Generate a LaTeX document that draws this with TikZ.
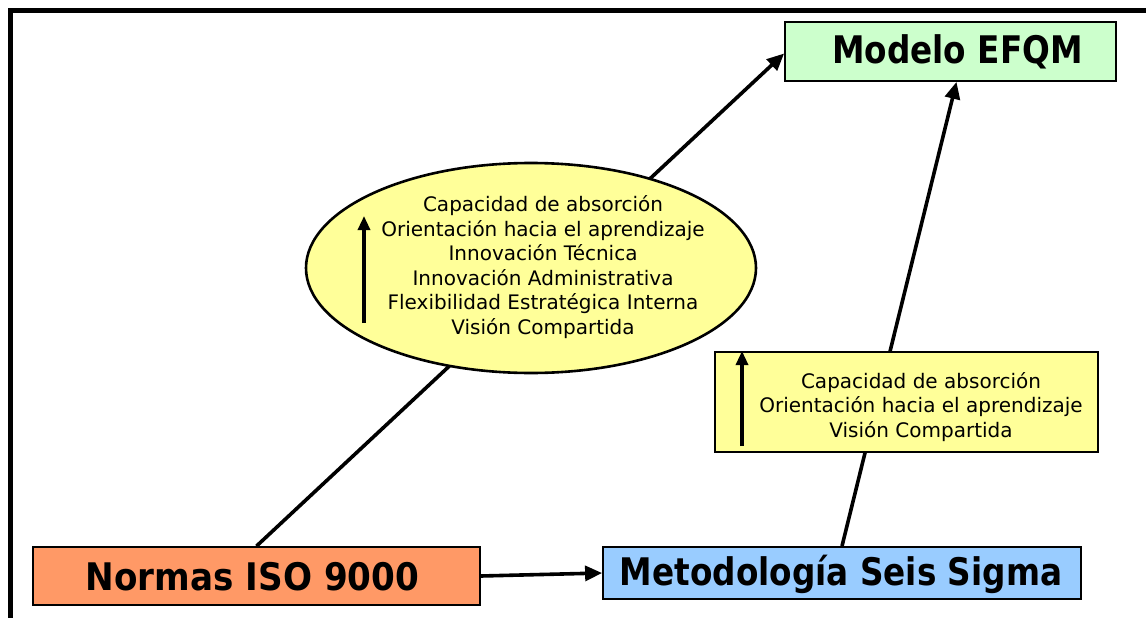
\documentclass[tikz,border=0pt]{standalone}
\usepackage{fontspec}
\setmainfont{DejaVu Sans}
\usetikzlibrary{arrows.meta,shapes.geometric,backgrounds,calc}
\definecolor{isoorange}{HTML}{FF9966}
\definecolor{sigmablue}{HTML}{99CCFF}
\definecolor{efqmgreen}{HTML}{CCFFCC}
\definecolor{noteyellow}{HTML}{FFFF99}
\newcommand{\bigbold}[2][0.86]{\scalebox{#1}[1]{\fontsize{38}{40}\selectfont\bfseries #2}}
\begin{document}
\begin{tikzpicture}[x=1pt,y=-1pt,
  modelbox/.style={draw=black,line width=1.8pt,inner sep=0pt,align=center},
  notes/.style={font=\fontsize{20}{24.5}\selectfont,align=center},
  link/.style={line width=3.6pt,-{Triangle[length=17pt,width=15pt]}},
  inner/.style={line width=3.2pt,-{Triangle[length=14pt,width=12pt]}}]
\useasboundingbox (0,0) rectangle (1146,618);
\begin{scope}
  \clip (0,0) rectangle (1146,618);
  \draw[line width=5pt] (10.5,640) -- (10.5,10.5) -- (1160,10.5);
\end{scope}

% quality models
\node[modelbox,fill=efqmgreen,minimum width=331pt,minimum height=59pt] (efqm) at (950.5,51.5) {};
\node (efqmtext) at (957.5,51.5) {\bigbold{Modelo EFQM}};
\node[modelbox,fill=isoorange,minimum width=447pt,minimum height=58pt] (iso) at (256.5,576) {};
\node (isotext) at (252.5,577) {\bigbold[0.9]{Normas ISO 9000}};
\node[modelbox,fill=sigmablue,minimum width=478pt,minimum height=52pt] (six) at (842,573) {};
\node (sixtext) at (841,574) {\bigbold{Metodología Seis Sigma}};

% mediating capabilities
\node[draw=black,line width=2.6pt,fill=noteyellow,ellipse,inner sep=0pt,minimum width=450pt,minimum height=210pt] (ell) at (531,268) {};
\node[notes] (elltext) at (543,267) {Capacidad de absorción\\Orientación hacia el aprendizaje\\Innovación Técnica\\Innovación Administrativa\\Flexibilidad Estratégica Interna\\Visión Compartida};
\node[draw=black,line width=2.8pt,fill=noteyellow,inner sep=0pt,minimum width=383pt,minimum height=100pt] (sbox) at (906.5,402) {};
\node[notes] (sboxtext) at (921,407) {Capacidad de absorción\\Orientación hacia el aprendizaje\\Visión Compartida};

\coordinate (ellbase) at (364,323);
\coordinate (elltop) at (364,216);
\draw[inner] (ellbase) -- (elltop);
\coordinate (sboxbase) at (742,446);
\coordinate (sboxtop) at (742,351);
\draw[inner] (sboxbase) -- (sboxtop);

\begin{pgfonlayer}{background}
  \draw[link] (iso.north) -- ($(efqm.west)+(0,2)$);
  \draw[link] (six.north) -- ($(efqm.south)+(6,0)$);
  \draw[link] (iso.east) -- (six.west);
\end{pgfonlayer}
\end{tikzpicture}
\end{document}
